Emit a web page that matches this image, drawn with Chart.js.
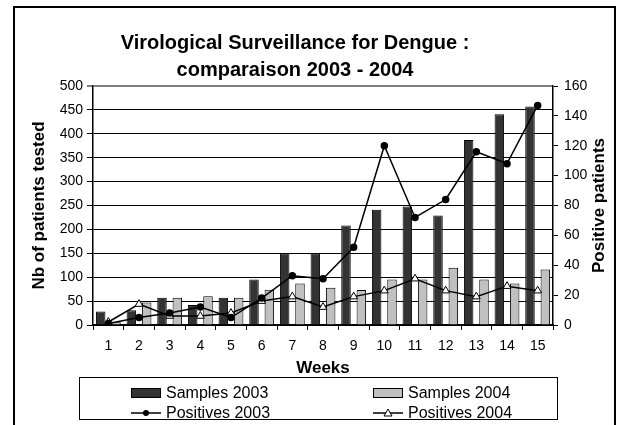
<!DOCTYPE html>
<html lang="en">
<head>
<meta charset="UTF-8">
<title>Virological Surveillance for Dengue</title>
<script src="https://cdn.jsdelivr.net/npm/chart.js"></script>
<style>
  body { margin: 0; background: #fff; font-family: "Liberation Sans", Arial, sans-serif; }
  #wrap { position: relative; width: 617px; height: 425px; overflow: hidden; background: #fff; }
  #frame { position: absolute; left: 13px; top: 6px; width: 599px; height: 440px; border: 2px solid #000; }
  #chart { position: absolute; left: 0; top: 0; }
  #title { position: absolute; left: 0; top: 29px; width: 590px; text-align: center;
           font-size: 20px; font-weight: bold; line-height: 27px; color: #000; }
  #legend { position: absolute; left: 79px; top: 377px; width: 477px; height: 41px; border: 1.5px solid #000; }
  .item { position: absolute; height: 20px; line-height: 20px; font-size: 16px; color: #000; white-space: nowrap; }
  .item svg { position: absolute; left: 0; top: 4px; }
  .item span { position: absolute; left: 35px; top: 0; }
</style>
</head>
<body>
<div id="wrap">
  <div id="frame"></div>
  <canvas id="chart" width="617" height="425"></canvas>
  <div id="title">Virological Surveillance for Dengue :<br>comparaison 2003 - 2004</div>
  <div id="legend"></div>
</div>
<script>
  // Semaines et valeurs
  const weeks = ['1', '2', '3', '4', '5', '6', '7', '8', '9', '10', '11', '12', '13', '14', '15'];
  const samples2003 = [28, 31, 57, 42, 57, 95, 150, 150, 208, 241, 248, 229, 387, 441, 457];
  const samples2004 = [6, 47, 57, 60, 57, 74, 87, 78, 73, 95, 95, 120, 95, 87, 116];
  const positives2003 = [1, 5, 8, 12, 5, 18, 33, 31, 52, 120, 72, 84, 116, 108, 147];
  const positives2004 = [2, 14, 6, 6, 8, 16, 19, 12, 19, 23, 31, 23, 19, 26, 23];

  const FONT = '"Liberation Sans", Arial, sans-serif';

  // titre de l'axe droit, lu de bas en haut comme dans l'original
  const rightTitle = {
    id: 'rightTitle',
    afterDraw(chart) {
      const s = chart.scales.y1;
      const ctx = chart.ctx;
      ctx.save();
      ctx.translate(s.right - 16, (s.top + s.bottom) / 2);
      ctx.rotate(-Math.PI / 2);
      ctx.font = 'bold 17px ' + FONT;
      ctx.fillStyle = '#000';
      ctx.textAlign = 'center';
      ctx.textBaseline = 'middle';
      ctx.fillText('Positive patients', 0, 0);
      ctx.restore();
    }
  };

  const chart = new Chart(document.getElementById('chart'), {
    type: 'bar',
    data: {
      labels: weeks,
      datasets: [
        {
          label: 'Samples 2003', data: samples2003, yAxisID: 'y', order: 2,
          backgroundColor: '#333333', borderColor: '#000', borderWidth: 1,
          barPercentage: 0.62, categoryPercentage: 1
        },
        {
          label: 'Samples 2004', data: samples2004, yAxisID: 'y', order: 2,
          backgroundColor: '#c0c0c0', borderColor: '#000', borderWidth: 1,
          barPercentage: 0.62, categoryPercentage: 1
        },
        {
          type: 'line', label: 'Positives 2003', data: positives2003, yAxisID: 'y1', order: 1,
          borderColor: '#000', borderWidth: 1.5, tension: 0,
          pointStyle: 'circle', pointRadius: 3, pointBackgroundColor: '#000', pointBorderColor: '#000'
        },
        {
          type: 'line', label: 'Positives 2004', data: positives2004, yAxisID: 'y1', order: 1,
          borderColor: '#000', borderWidth: 1.5, tension: 0,
          pointStyle: 'triangle', pointRadius: 4.5, pointBackgroundColor: '#fff',
          pointBorderColor: '#000', pointBorderWidth: 1
        }
      ]
    },
    options: {
      responsive: false,
      animation: false,
      layout: { padding: { left: 14, right: 2, top: 86, bottom: 48 } },
      plugins: {
        legend: { display: false },
        tooltip: { enabled: false },
        title: { display: false }
      },
      scales: {
        x: {
          grid: { drawOnChartArea: false, color: '#000', tickLength: 5, offset: true },
          border: { color: '#000', width: 1.5 },
          ticks: { color: '#000', font: { family: FONT, size: 14 }, padding: 8, maxRotation: 0 },
          title: {
            display: true, text: 'Weeks', color: '#000',
            font: { family: FONT, size: 17, weight: 'bold', lineHeight: 1 },
            padding: { top: 0, bottom: 0 }
          },
          afterFit: s => { s.height = 52; }
        },
        y: {
          position: 'left', min: 0, max: 500,
          ticks: { stepSize: 50, color: '#000', font: { family: FONT, size: 14 }, padding: 4 },
          grid: {
            color: c => c.tick && c.tick.value === 500 ? '#808080' : '#000',
            lineWidth: c => c.tick && c.tick.value === 500 ? 2 : 1,
            tickLength: 6
          },
          border: { color: '#000', width: 1.5 },
          title: {
            display: true, text: 'Nb of patients tested', color: '#000',
            font: { family: FONT, size: 17, weight: 'bold', lineHeight: 1.2 },
            padding: { top: 15, bottom: 0 }
          },
          afterFit: s => { s.width = 79; }
        },
        y1: {
          position: 'right', min: 0, max: 160,
          ticks: { stepSize: 20, color: '#000', font: { family: FONT, size: 14 }, padding: 6 },
          grid: { drawOnChartArea: false, color: '#000', tickLength: 5 },
          border: { color: '#000', width: 1.5 },
          afterFit: s => { s.width = 62; }
        }
      }
    },
    plugins: [rightTitle]
  });

  // Légende encadrée, 2 colonnes x 2 lignes, construite à partir des datasets
  const legend = document.getElementById('legend');
  const colX = [51, 293];
  const rowY = [5, 25];
  chart.data.datasets.forEach((ds, i) => {
    const item = document.createElement('div');
    item.className = 'item';
    item.style.left = colX[i % 2] + 'px';
    item.style.top = rowY[Math.floor(i / 2)] + 'px';
    let sym;
    if (ds.type === 'line') {
      const mark = ds.pointStyle === 'triangle'
        ? '<polygon points="15,2 19,9 11,9" fill="#fff" stroke="#000" stroke-width="1"/>'
        : '<circle cx="15" cy="6" r="3" fill="#000"/>';
      sym = '<svg width="30" height="12"><line x1="0" y1="6" x2="30" y2="6" stroke="#000" stroke-width="1.5"/>' + mark + '</svg>';
    } else {
      sym = '<svg width="30" height="12"><rect x="0.5" y="1.5" width="29" height="9" fill="' + ds.backgroundColor + '" stroke="#000" stroke-width="1"/></svg>';
    }
    item.innerHTML = sym + '<span>' + ds.label + '</span>';
    legend.appendChild(item);
  });
</script>
</body>
</html>
